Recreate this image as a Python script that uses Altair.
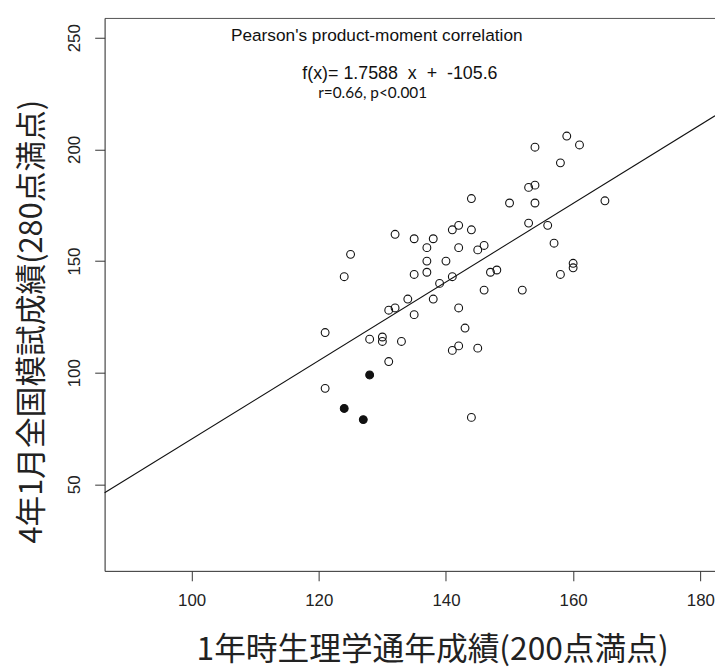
import altair as alt
import pandas as pd

# ---- data ----
open_x = [159, 161, 154, 158, 153, 154, 144, 150, 154, 165,
          132, 135, 138, 141, 142, 144, 153, 156, 137, 142,
          145, 146, 157, 125, 137, 140, 124, 135, 137, 141,
          147, 148, 158, 160, 160, 139, 146, 152, 134, 138,
          131, 132, 135, 142, 121, 128, 130, 130, 133, 143,
          141, 142, 145, 131, 121, 144]
open_y = [206, 202, 201, 194, 183, 184, 178, 176, 176, 177,
          162, 160, 160, 164, 166, 164, 167, 166, 156, 156,
          155, 157, 158, 153, 150, 150, 143, 144, 145, 143,
          145, 146, 144, 149, 147, 140, 137, 137, 133, 133,
          128, 129, 126, 129, 118, 115, 116, 114, 114, 120,
          110, 112, 111, 105, 93, 80]
filled_x = [128, 124, 127]
filled_y = [99, 84, 79]

slope = 1.7588
intercept = -105.6

x_domain = [86.32, 182.31]
y_domain = [11.26, 258.88]
x_ticks = [100, 120, 140, 160, 180]
y_ticks = [50, 100, 150, 200, 250]

x_title = "1年時生理学通年成績(200点満点)"
y_title = "4年1月全国模試成績(280点満点)"
ann_text = ["Pearson's product-moment correlation",
            "f(x)= 1.7588\u00a0 x\u00a0 +\u00a0 -105.6",
            "r=0.66, p<0.001"]

# ---- tables ----
pts = pd.DataFrame({
    "x": open_x + filled_x,
    "y": open_y + filled_y,
    "kind": ["open"] * len(open_x) + ["filled"] * len(filled_x),
})
line_df = pd.DataFrame({"x": x_domain})

W, H = 616, 558
xs = alt.Scale(domain=x_domain, nice=False, zero=False)
ys = alt.Scale(domain=y_domain, nice=False, zero=False)

LAB = "Liberation Sans"
CJK = "Noto Sans CJK JP"

y_axis = alt.Axis(
    values=y_ticks, grid=False, domainColor="#333", tickColor="#333",
    tickSize=10, labelAngle=270, labelAlign="center", labelBaseline="bottom",
    labelPadding=11, labelFont=LAB, labelFontSize=17, labelColor="#222",
    title=y_title, titleFont=CJK, titleFontSize=31, titleFontWeight="normal",
    titleColor="#222", titleAngle=270, titleAlign="center",
    titleBaseline="middle", titleX=-73, titleY=306,
)
x_axis = alt.Axis(
    values=x_ticks, grid=False, domainColor="#333", tickColor="#333",
    tickSize=10, labelPadding=12, labelFont=LAB, labelFontSize=17,
    labelColor="#222", title=x_title, titleFont=CJK, titleFontSize=32,
    titleFontWeight="normal", titleColor="#222", titleAlign="center",
    titleBaseline="middle", titleX=330.5, titleY=79,
)
top_axis = alt.Axis(orient="top", labels=False, ticks=False, grid=False,
                    domainColor="#555", title=None)

reg = alt.Chart(line_df).transform_calculate(
    y=f"{slope} * datum.x + ({intercept})"
).mark_line(color="#111", strokeWidth=1.1).encode(
    x=alt.X("x:Q", scale=xs, axis=top_axis),
    y=alt.Y("y:Q", scale=ys, axis=y_axis),
)

points = alt.Chart(pts).mark_point(
    shape="circle", stroke="#111", strokeWidth=1.1, size=62, opacity=1
).encode(
    x=alt.X("x:Q", scale=xs, axis=x_axis),
    y=alt.Y("y:Q", scale=ys, axis=y_axis),
    fill=alt.Fill("kind:N", scale=alt.Scale(domain=["open", "filled"],
                                             range=["transparent", "#111"]),
                  legend=None),
)

def ann(i, px, py, font, size):
    return alt.Chart(pd.DataFrame({"t": [ann_text[i]]})).mark_text(
        align="left", baseline="middle", font=font, fontSize=size, color="#111"
    ).encode(x=alt.value(px), y=alt.value(py), text="t:N")

chart = alt.layer(
    reg, points,
    ann(0, 127.5, 18, LAB, 17.4),
    ann(1, 199.5, 57, LAB, 18),
    ann(2, 215.5, 76, "Lato", 15.5),
).resolve_axis(x="independent").properties(
    width=W, height=H,
    autosize=alt.AutoSizeParams(type="none"),
    padding={"left": 97.5, "top": 7, "right": 0, "bottom": 97},
).configure_view(strokeWidth=0).configure(background="white")

chart.save("out.html", embed_options={"renderer": "svg", "actions": False})
